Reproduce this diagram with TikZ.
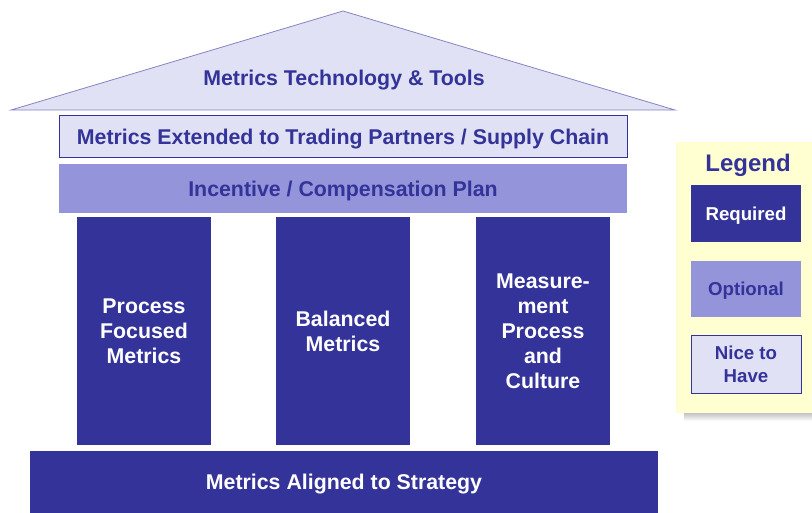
\documentclass[tikz,border=0pt]{standalone}
\usepackage{fontspec}
\setmainfont{Liberation Sans}
\definecolor{navy}{HTML}{333399}
\definecolor{mid}{HTML}{9494DA}
\definecolor{pale}{HTML}{E1E1F5}
\definecolor{cream}{HTML}{FFFFD2}
\definecolor{shade}{HTML}{8C8C8C}

\begin{document}
\begin{tikzpicture}[x=0.75pt, y=-0.75pt, font=\bfseries\fontsize{16}{18.8}\selectfont, line width=0.6pt,
    req/.style={fill=navy, text=white, inner sep=0pt, align=center},
    opt/.style={fill=mid, text=navy, inner sep=0pt, align=center},
    nice/.style={draw=navy, fill=pale, text=navy, inner sep=0pt, align=center},
    oneline/.style={text depth=0pt}]
        \useasboundingbox (0,0) rectangle (812,512);

        % roof
        \filldraw[fill=pale, draw=navy!60] (11,110) -- (343,11) -- (675,110) -- cycle;
        \node[text=navy, oneline, yshift=-1pt](roof) at (344,76) {Metrics Technology \& Tools};

        % beams
        \node[nice, oneline, minimum width=426pt, minimum height=32pt](ext) at (343,136.5) {Metrics Extended to Trading Partners / Supply Chain};
        \node[opt, oneline, minimum width=426pt, minimum height=37pt](inc) at (343,188.5) {Incentive / Compensation Plan};

        % pillars
        \node[req, minimum width=100.5pt, minimum height=171pt](p1) at (144,331) {Process\\Focused\\Metrics};
        \node[req, minimum width=100.5pt, minimum height=171pt](p2) at (343,331) {Balanced\\Metrics};
        \node[req, minimum width=100.5pt, minimum height=171pt](p3) at (543,331) {Measure-\\ment\\Process\\and\\Culture};

        % base
        \node[req, oneline, minimum width=471pt, minimum height=46pt](base) at (344,482) {Metrics Aligned to Strategy};

        % legend
        \fill[shade] (684,404) rectangle (812,421);
        \fill[cream] (676,142) rectangle (812,413);
        \node[text=navy, oneline, yshift=-1pt, font=\bfseries\fontsize{18}{21}\selectfont](lg) at (748,161) {Legend};
        \begin{scope}[font=\bfseries\fontsize{14}{17}\selectfont]
        \node[req, oneline, minimum width=82.5pt, minimum height=42.5pt](r) at (746,213.5) {Required};
        \node[opt, oneline, minimum width=82.5pt, minimum height=42pt](o) at (746,289) {Optional};
        \node[nice, minimum width=82.5pt, minimum height=43.5pt](n) at (746,364) {Nice to\\Have};
        \end{scope}
\end{tikzpicture}
\end{document}
